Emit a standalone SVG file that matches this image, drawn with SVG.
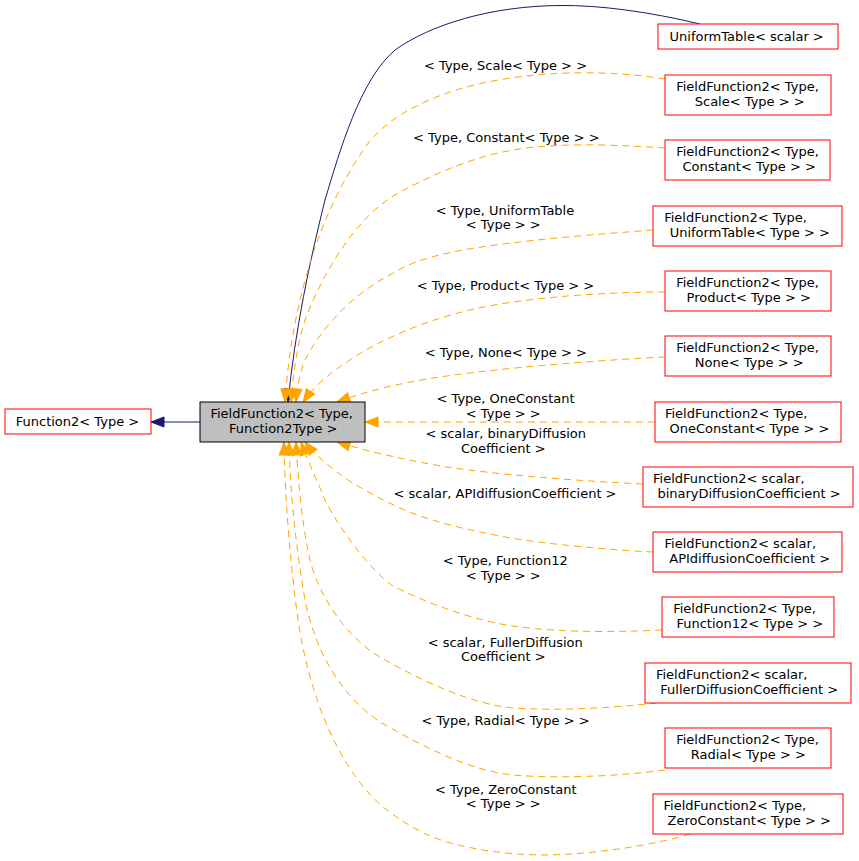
<svg xmlns="http://www.w3.org/2000/svg" width="859" height="861" viewBox="0 0 859 861">
<style>
text { font-family: "DejaVu Sans", "Liberation Sans", sans-serif; font-size: 13px; fill: #000; text-anchor: middle; }
.node rect { fill: #fff; stroke: #ff0000; stroke-width: 1; }
.node.main rect { fill: #bfbfbf; stroke: #000; }
.inh { fill: none; stroke: #191970; stroke-width: 1; }
.tpl { fill: none; stroke: #ffa500; stroke-width: 1; stroke-dasharray: 7,5; }
</style>
<defs>
<marker id="an" markerUnits="userSpaceOnUse" markerWidth="15" markerHeight="12" viewBox="-1 -1 15 12" refX="13" refY="5" orient="auto">
<path d="M0,0 L13,5 L0,10 Z" fill="#191970" stroke="#191970" stroke-width="1" stroke-dasharray="none"/>
</marker>
<marker id="ao" markerUnits="userSpaceOnUse" markerWidth="15" markerHeight="12" viewBox="-1 -1 15 12" refX="13" refY="5" orient="auto">
<path d="M0,0 L13,5 L0,10 Z" fill="#ffa500" stroke="#ffa500" stroke-width="1" stroke-dasharray="none"/>
</marker>
</defs>
<rect width="859" height="861" fill="#fff"/>
<g id="connectors">
<path class="inh" d="M200,422 L151,422" marker-end="url(#an)"/>
<path class="inh" d="M700,24 C650,12 600,5 560,5.5 C490,6 430,25 395,50 C360,80 340,150 325,200 C310,260 295,330 288,402" marker-end="url(#an)"/>
<path class="tpl" d="M665,79 C610,70 520,68 447,93 C400,110 375,130 360,155 C320,215 292,300 285,402" marker-end="url(#ao)"/>
<path class="tpl" d="M665,148 C620,145 560,142 513,150 C470,157 420,180 390,198 C350,225 320,280 305,320 C297,345 293,375 291,402" marker-end="url(#ao)"/>
<path class="tpl" d="M653,230 C600,234 520,240 463,250 C430,256 410,263 395,272 C350,295 320,330 305,360 C299,375 297,390 296,402" marker-end="url(#ao)"/>
<path class="tpl" d="M665,292 C600,292 520,298 470,310 C420,322 380,340 350,360 C330,373 315,385 303,402" marker-end="url(#ao)"/>
<path class="tpl" d="M665,357 C600,360 500,368 440,377 C400,383 370,390 337,402" marker-end="url(#ao)"/>
<path class="tpl" d="M655,422 L365,422" marker-end="url(#ao)"/>
<path class="tpl" d="M643,484 C580,481 500,475 447,467 C410,461 370,452 337,442" marker-end="url(#ao)"/>
<path class="tpl" d="M653,552 C610,550 560,545 523,540 C480,533 430,522 400,508 C380,499 360,488 345,478 C330,467 315,455 305,442" marker-end="url(#ao)"/>
<path class="tpl" d="M662,630 C620,632 560,633 513,626 C470,620 420,600 393,586 C370,570 340,530 325,500 C318,482 308,462 301,442" marker-end="url(#ao)"/>
<path class="tpl" d="M657,703 C610,708 560,711 513,708 C470,704 420,680 380,657 C350,640 320,600 310,560 C302,525 298,480 296,442" marker-end="url(#ao)"/>
<path class="tpl" d="M665,770 C620,776 560,779 513,775 C470,771 420,745 380,722 C340,695 315,650 305,600 C295,540 290,490 289,442" marker-end="url(#ao)"/>
<path class="tpl" d="M690,834 C660,843 620,850 580,853.3 C550,856 500,857 447,842 C420,834 400,820 383,807 C340,770 310,700 298,620 C290,560 285,500 284,442" marker-end="url(#ao)"/>
</g>
<g id="edge-labels">
<text x="505.5" y="69.5">&lt; Type, Scale&lt; Type &gt; &gt;</text>
<text x="506.3" y="141.8">&lt; Type, Constant&lt; Type &gt; &gt;</text>
<text x="505" y="214.8">&lt; Type, UniformTable</text>
<text x="503.3" y="229.2">&lt; Type &gt; &gt;</text>
<text x="505.5" y="290">&lt; Type, Product&lt; Type &gt; &gt;</text>
<text x="505.8" y="356.8">&lt; Type, None&lt; Type &gt; &gt;</text>
<text x="505.5" y="403">&lt; Type, OneConstant</text>
<text x="503.3" y="417.5">&lt; Type &gt; &gt;</text>
<text x="505.7" y="438">&lt; scalar, binaryDiffusion</text>
<text x="503.3" y="452.5">Coefficient &gt;</text>
<text x="505" y="498">&lt; scalar, APIdiffusionCoefficient &gt;</text>
<text x="505.3" y="565">&lt; Type, Function12</text>
<text x="503.3" y="579.5">&lt; Type &gt; &gt;</text>
<text x="505.2" y="646.5">&lt; scalar, FullerDiffusion</text>
<text x="503.3" y="661">Coefficient &gt;</text>
<text x="505.5" y="725">&lt; Type, Radial&lt; Type &gt; &gt;</text>
<text x="505.8" y="793.5">&lt; Type, ZeroConstant</text>
<text x="503.3" y="808">&lt; Type &gt; &gt;</text>
</g>
<g id="node-function2" class="node"><rect x="5" y="409" width="146" height="25"/><text x="77.5" y="425.5">Function2&lt; Type &gt;</text></g>
<g id="node-fieldfunction2" class="node main"><rect x="200" y="402" width="165" height="40"/><text x="281.7" y="418.3">FieldFunction2&lt; Type,</text><text x="283.3" y="432.7">Function2Type &gt;</text></g>
<g id="node-uniformtable-scalar" class="node"><rect x="658" y="24" width="180" height="25"/><text x="746.7" y="40.5">UniformTable&lt; scalar &gt;</text></g>
<g id="node-scale" class="node"><rect x="665" y="75" width="166" height="40"/><text x="747.5" y="91.3">FieldFunction2&lt; Type,</text><text x="749.7" y="105.7">Scale&lt; Type &gt; &gt;</text></g>
<g id="node-constant" class="node"><rect x="665" y="140" width="165" height="40"/><text x="747.5" y="156.3">FieldFunction2&lt; Type,</text><text x="749.2" y="170.7">Constant&lt; Type &gt; &gt;</text></g>
<g id="node-uniformtable" class="node"><rect x="653" y="206" width="189" height="40"/><text x="735.5" y="222.3">FieldFunction2&lt; Type,</text><text x="749.8" y="236.7">UniformTable&lt; Type &gt; &gt;</text></g>
<g id="node-product" class="node"><rect x="665" y="271" width="166" height="40"/><text x="747.5" y="287.3">FieldFunction2&lt; Type,</text><text x="748.7" y="301.7">Product&lt; Type &gt; &gt;</text></g>
<g id="node-none" class="node"><rect x="665" y="336" width="166" height="40"/><text x="747.5" y="352.3">FieldFunction2&lt; Type,</text><text x="749.2" y="366.7">None&lt; Type &gt; &gt;</text></g>
<g id="node-oneconstant" class="node"><rect x="655" y="402" width="186" height="40"/><text x="736.2" y="418.3">FieldFunction2&lt; Type,</text><text x="749.5" y="432.7">OneConstant&lt; Type &gt; &gt;</text></g>
<g id="node-binarydiffusion" class="node"><rect x="643" y="467" width="210" height="40"/><text x="728.8" y="483.3">FieldFunction2&lt; scalar,</text><text x="749" y="497.7">binaryDiffusionCoefficient &gt;</text></g>
<g id="node-apidiffusion" class="node"><rect x="653" y="532" width="189" height="40"/><text x="740.3" y="548.3">FieldFunction2&lt; scalar,</text><text x="749.7" y="562.7">APIdiffusionCoefficient &gt;</text></g>
<g id="node-function12" class="node"><rect x="662" y="597" width="172" height="40"/><text x="744.5" y="613.3">FieldFunction2&lt; Type,</text><text x="749.8" y="627.7">Function12&lt; Type &gt; &gt;</text></g>
<g id="node-fullerdiffusion" class="node"><rect x="645" y="663" width="206" height="40"/><text x="731.7" y="679.3">FieldFunction2&lt; scalar,</text><text x="749.2" y="693.7">FullerDiffusionCoefficient &gt;</text></g>
<g id="node-radial" class="node"><rect x="665" y="728" width="166" height="40"/><text x="747.5" y="744.3">FieldFunction2&lt; Type,</text><text x="748.3" y="758.7">Radial&lt; Type &gt; &gt;</text></g>
<g id="node-zeroconstant" class="node"><rect x="653" y="794" width="190" height="40"/><text x="734.8" y="810.3">FieldFunction2&lt; Type,</text><text x="749.2" y="824.7">ZeroConstant&lt; Type &gt; &gt;</text></g>
</svg>
